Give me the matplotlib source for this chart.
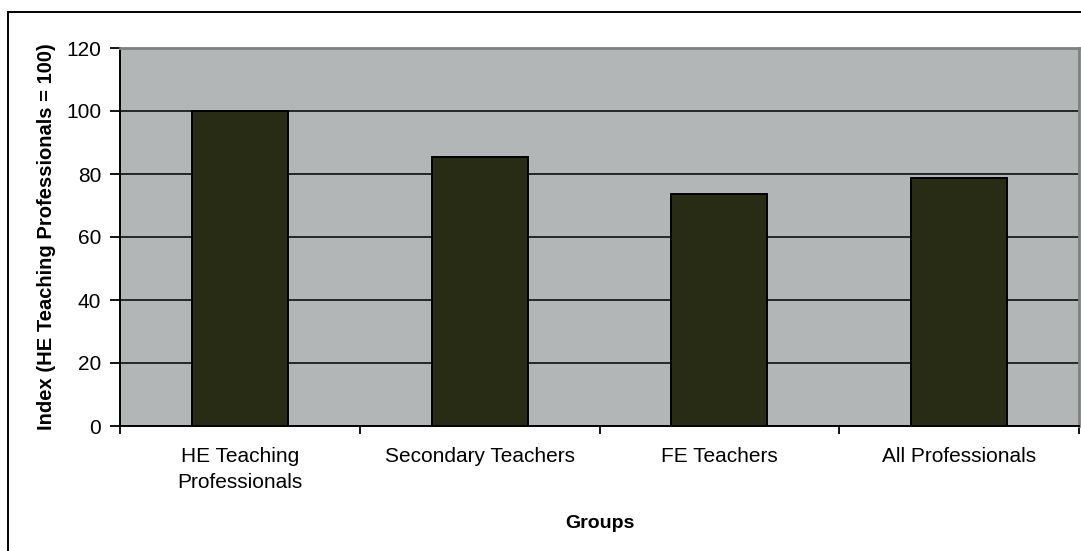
import matplotlib
matplotlib.use("Agg")
import matplotlib.pyplot as plt
from matplotlib.patches import Rectangle
from matplotlib.ticker import FixedLocator, NullFormatter

groups = ["HE Teaching\nProfessionals", "Secondary Teachers", "FE Teachers", "All Professionals"]
index_values = [100.0, 85.3, 73.5, 78.8]
y_ticks = [0, 20, 40, 60, 80, 100, 120]

plt.rcParams["font.family"] = ["Liberation Sans", "DejaVu Sans"]

W, H = 1081, 551
fig = plt.figure(figsize=(W / 100, H / 100), dpi=100)
fig.patch.set_facecolor("white")

# Outer chart frame (extends past the right and bottom edges)
fig.patches.append(Rectangle((8 / W, -0.05), 1.2, 1 - 12 / H + 0.05,
                             transform=fig.transFigure, fill=False,
                             edgecolor="black", linewidth=1.4, zorder=0))

ax = fig.add_axes([120 / W, 1 - 426 / H, (1079 - 120) / W, (426 - 48) / H])
ax.set_facecolor("#B3B6B6")

x = list(range(len(groups)))
ax.bar(x, index_values, width=0.4, color="#282C14", edgecolor="black",
       linewidth=1.4, zorder=3)

ax.set_xlim(-0.5, len(groups) - 0.5)
ax.set_ylim(0, 120)
ax.set_yticks(y_ticks)
ax.yaxis.grid(True, color="black", linewidth=1.1, zorder=1)
ax.set_axisbelow(True)

# Category labels centred under bars; tick marks at category boundaries
ax.set_xticks(x)
ax.set_xticklabels(groups, fontsize=15, linespacing=1.5)
ax.tick_params(axis="x", which="major", length=0, pad=15)
ax.xaxis.set_minor_locator(FixedLocator([i - 0.5 for i in range(len(groups) + 1)]))
ax.xaxis.set_minor_formatter(NullFormatter())
ax.tick_params(axis="x", which="minor", length=6, width=1.3, direction="out")
ax.tick_params(axis="y", length=7, width=1.3, direction="out", labelsize=15, pad=6.5)

for side in ("top", "right"):
    ax.spines[side].set_color("#808080")
    ax.spines[side].set_linewidth(2)
for side in ("left", "bottom"):
    ax.spines[side].set_color("black")
    ax.spines[side].set_linewidth(1.4)

ax.set_ylabel("Index (HE Teaching Professionals = 100)", fontsize=14.5,
              fontweight="bold", labelpad=7)
ax.set_xlabel("Groups", fontsize=14, fontweight="bold", labelpad=16)

fig.savefig("out.png", dpi=100)
